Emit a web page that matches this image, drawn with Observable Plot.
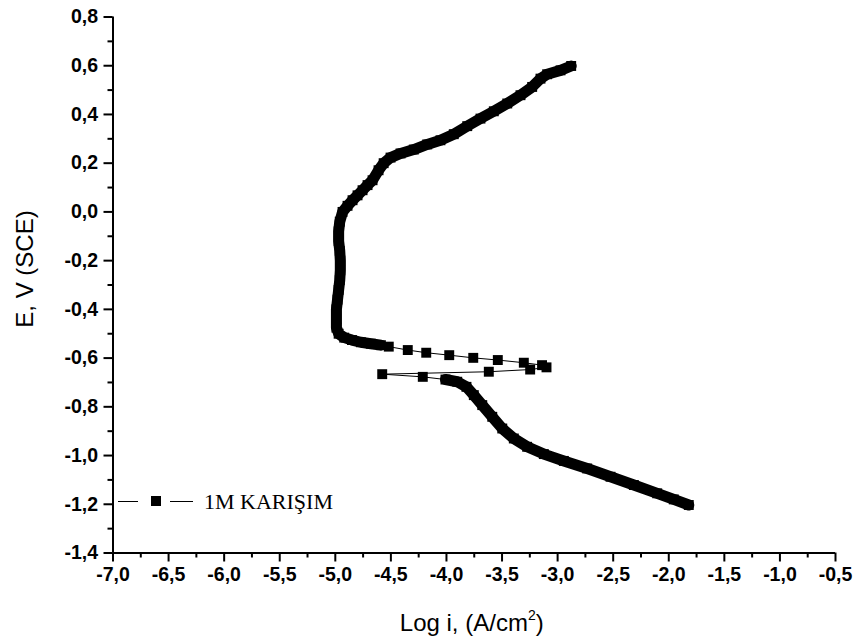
<!DOCTYPE html>
<html>
<head>
<meta charset="utf-8">
<script src="https://cdn.jsdelivr.net/npm/d3@7"></script>
<script src="https://cdn.jsdelivr.net/npm/@observablehq/plot@0.6"></script>
<style>
  body { margin: 0; background: #fff; }
  #chart { width: 856px; height: 643px; }
</style>
</head>
<body>
<div id="chart"></div>
<script>
// ---- Data ----
const seriesName = "1M KARIŞIM";
const xLabel = "Log i, (A/cm";
const yLabel = "E, V (SCE)";

// Cathodic branch (dense, scan starts at -1.2 V)
const cathodicLogI = [-1.82, -1.955, -2.104, -2.314, -2.524, -2.734, -2.944, -3.124, -3.274, -3.394, -3.498, -3.588, -3.678, -3.754, -3.820, -3.903, -4.009];
const cathodicE    = [-1.203, -1.180, -1.155, -1.121, -1.087, -1.053, -1.022, -0.994, -0.964, -0.930, -0.889, -0.841, -0.793, -0.752, -0.718, -0.697, -0.688];

// Transition region (sparse markers)
const transitionLogI = [-4.213, -4.578, -3.619, -3.247, -3.10, -3.14, -3.304, -3.538, -3.759, -3.975, -4.182, -4.348, -4.519];
const transitionE    = [-0.677, -0.666, -0.656, -0.647, -0.638, -0.629, -0.619, -0.608, -0.599, -0.588, -0.578, -0.567, -0.553];

// Anodic branch (dense)
const anodicLogI = [-4.59, -4.68, -4.77, -4.85, -4.92, -4.97, -4.99, -4.99, -4.99, -4.98, -4.97, -4.96, -4.955, -4.955, -4.96, -4.97, -4.97, -4.96, -4.935, -4.89, -4.845, -4.80, -4.755, -4.71, -4.665, -4.611, -4.565, -4.503, -4.413, -4.294, -4.173, -4.054, -3.934, -3.813, -3.694, -3.574, -3.453, -3.334, -3.229, -3.154, -3.094, -2.974, -2.878];
const anodicE    = [-0.547, -0.541, -0.535, -0.526, -0.516, -0.500, -0.475, -0.44, -0.40, -0.36, -0.32, -0.28, -0.24, -0.20, -0.16, -0.12, -0.08, -0.04, 0.0, 0.025, 0.048, 0.068, 0.089, 0.11, 0.130, 0.171, 0.20, 0.223, 0.240, 0.256, 0.277, 0.294, 0.319, 0.352, 0.383, 0.413, 0.445, 0.479, 0.513, 0.547, 0.565, 0.581, 0.599];

// Ticks
const xTicks = [-7.0, -6.5, -6.0, -5.5, -5.0, -4.5, -4.0, -3.5, -3.0, -2.5, -2.0, -1.5, -1.0, -0.5];
const xMinorTicks = [-6.75, -6.25, -5.75, -5.25, -4.75, -4.25, -3.75, -3.25, -2.75, -2.25, -1.75, -1.25, -0.75];
const yTicks = [0.8, 0.6, 0.4, 0.2, 0.0, -0.2, -0.4, -0.6, -0.8, -1.0, -1.2, -1.4];
const yMinorTicks = [0.7, 0.5, 0.3, 0.1, -0.1, -0.3, -0.5, -0.7, -0.9, -1.1, -1.3];

// ---- Build tables ----
const toRows = (xs, ys, part) => xs.map((x, i) => ({ x, y: ys[i], part }));
const cathodic = toRows(cathodicLogI, cathodicE, "cathodic");
const transition = toRows(transitionLogI, transitionE, "transition");
const anodic = toRows(anodicLogI, anodicE, "anodic");
const all = [...cathodic, ...transition, ...anodic];

const fmt = d => d.toFixed(1).replace(".", ",");

const plot = Plot.plot({
  width: 856,
  height: 643,
  marginLeft: 112.5,
  marginRight: 21,
  marginTop: 16.5,
  marginBottom: 90.5,
  style: {
    fontFamily: "'Liberation Sans', Arial, sans-serif",
    fontSize: "19.5px",
    fontWeight: "bold",
    color: "black",
    background: "white"
  },
  x: { domain: [-7, -0.5] },
  y: { domain: [-1.4, 0.8] },
  marks: [
    Plot.line(all, { x: "x", y: "y", stroke: "black", strokeWidth: 1 }),
    Plot.line(cathodic, { x: "x", y: "y", stroke: "black", strokeWidth: 11, strokeLinejoin: "round" }),
    Plot.line(anodic, { x: "x", y: "y", stroke: "black", strokeWidth: 11, strokeLinejoin: "round" }),
    Plot.dot(all, { x: "x", y: "y", symbol: "square", r: 5.6, fill: "black", stroke: "none" }),
    Plot.axisX({ ticks: xTicks, tickFormat: fmt, tickSize: 9, tickPadding: 5, strokeWidth: 2, label: null, anchor: "bottom" }),
    Plot.axisX({ ticks: xMinorTicks, tickFormat: null, text: null, tickSize: 5, strokeWidth: 2, label: null, anchor: "bottom" }),
    Plot.axisY({ ticks: yTicks, tickFormat: fmt, tickSize: 9, tickPadding: 6, strokeWidth: 2, label: null, anchor: "left" }),
    Plot.axisY({ ticks: yMinorTicks, tickFormat: null, text: null, tickSize: 5, strokeWidth: 2, label: null, anchor: "left" }),
    Plot.ruleY([-1.4], { stroke: "black", strokeWidth: 2 }),
    Plot.ruleX([-7], { stroke: "black", strokeWidth: 2 })
  ]
});

document.getElementById("chart").appendChild(plot);

// ---- Axis titles and legend ----
const svg = d3.select(plot);
const xs = plot.scale("x");
const cx = (xs.range[0] + xs.range[1]) / 2;

const xt = svg.append("text")
  .attr("x", cx - 2)
  .attr("y", 631)
  .attr("text-anchor", "middle")
  .attr("font-family", "'Liberation Sans', Arial, sans-serif")
  .attr("font-size", 24)
  .attr("font-weight", "normal")
  .attr("fill", "black");
xt.append("tspan").text(xLabel);
xt.append("tspan").attr("font-size", 14).attr("dy", -11).text("2");
xt.append("tspan").attr("dy", 11).text(")");

svg.append("text")
  .attr("transform", "translate(33,269) rotate(-90)")
  .attr("text-anchor", "middle")
  .attr("font-family", "'Liberation Sans', Arial, sans-serif")
  .attr("font-size", 24)
  .attr("font-weight", "normal")
  .attr("fill", "black")
  .text(yLabel);

const lg = svg.append("g");
lg.append("line").attr("x1", 118).attr("x2", 138).attr("y1", 501.5).attr("y2", 501.5).attr("stroke", "black").attr("stroke-width", 1);
lg.append("rect").attr("x", 151).attr("y", 496).attr("width", 10).attr("height", 10).attr("fill", "black");
lg.append("line").attr("x1", 170).attr("x2", 193).attr("y1", 501.5).attr("y2", 501.5).attr("stroke", "black").attr("stroke-width", 1);
lg.append("text")
  .attr("x", 204)
  .attr("y", 509)
  .attr("text-anchor", "start")
  .attr("font-family", "'Liberation Serif', 'Times New Roman', serif")
  .attr("font-size", 22)
  .attr("font-weight", "normal")
  .attr("fill", "black")
  .text(seriesName);
</script>
</body>
</html>
